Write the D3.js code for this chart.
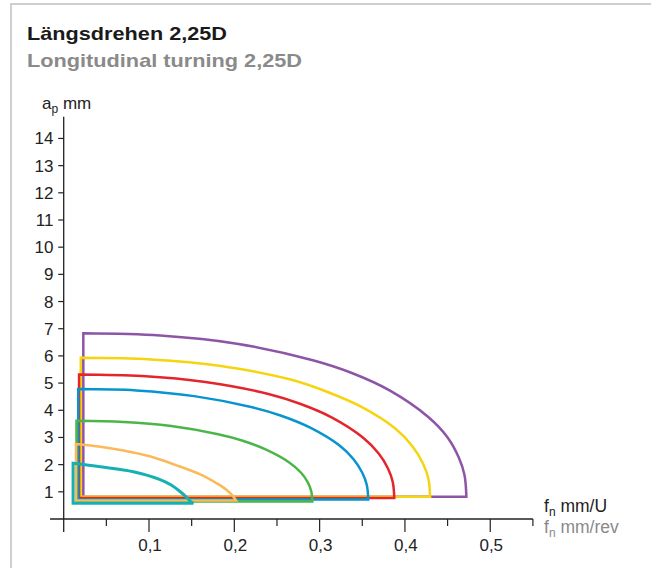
<!DOCTYPE html>
<html><head><meta charset="utf-8">
<script src="https://cdn.jsdelivr.net/npm/d3@7"></script>
<style>
html,body{margin:0;padding:0;background:#fff;}
svg{display:block;font-family:"Liberation Sans",Arial,Helvetica,sans-serif;}
</style></head>
<body>
<svg id="chart" width="651" height="568"></svg>
<script>
// ---- data ----
const yTicks = [1,2,3,4,5,6,7,8,9,10,11,12,13,14];
const xMajorTicks = [0.1,0.2,0.3,0.4,0.5];
const xTickLabels = ["0,1","0,2","0,3","0,4","0,5"];
const xMinorTicks = [0.05,0.15,0.25,0.35,0.45,0.55];

// feed f (mm/rev) and depth ap (mm) for each cutting-range outline
// first point = bottom-left corner, second = top-left corner, last = bottom-right end
const fPurple  = [0.023,0.023,0.113,0.203,0.292,0.337,0.382,0.427,0.450,0.463,0.4698,0.472];
const apPurple = [0.82, 6.83, 6.75, 6.45, 5.84, 5.38, 4.73, 3.76, 3.00, 2.27, 1.62, 0.82];
const fYellow  = [0.020,0.020,0.102,0.184,0.266,0.307,0.348,0.389,0.409,0.421,0.4275,0.4295];
const apYellow = [0.82, 5.93, 5.87, 5.63, 5.13, 4.70, 4.14, 3.32, 2.67, 2.05, 1.48, 0.82];
const fRed     = [0.018,0.018,0.092,0.166,0.240,0.277,0.314,0.351,0.369,0.380,0.3857,0.3875];
const apRed    = [0.77, 5.32, 5.26, 5.04, 4.60, 4.24, 3.74, 2.99, 2.42, 1.87, 1.36, 0.77];
const fBlue    = [0.017,0.017,0.085,0.153,0.221,0.255,0.289,0.323,0.340,0.350,0.3553,0.357];
const apBlue   = [0.72, 4.78, 4.73, 4.52, 4.11, 3.80, 3.36, 2.71, 2.19, 1.70, 1.25, 0.72];
const fGreen   = [0.015,0.015,0.070,0.126,0.181,0.209,0.236,0.264,0.278,0.286,0.2901,0.2915];
const apGreen  = [0.64, 3.61, 3.57, 3.42, 3.12, 2.89, 2.57, 2.09, 1.71, 1.36, 1.03, 0.64];
const fOrange  = [0.0144,0.0144,0.043,0.070,0.101,0.130,0.160,0.180,0.191,0.198,0.202];
const apOrange = [0.68, 2.76, 2.66, 2.52, 2.31, 2.00, 1.64, 1.30, 1.07, 0.86, 0.68];
const fTeal    = [0.011,0.011,0.043,0.0816,0.113,0.126,0.136,0.144,0.149,0.152];
const apTeal   = [0.58, 2.05, 1.92, 1.74, 1.45, 1.25, 1.02, 0.80, 0.64, 0.58];

const series = [
  {f:fPurple, ap:apPurple, color:"#8c55a6", w:2.5},
  {f:fYellow, ap:apYellow, color:"#f5d410", w:2.5},
  {f:fRed,    ap:apRed,    color:"#e4262c", w:2.5},
  {f:fBlue,   ap:apBlue,   color:"#0895cf", w:2.5},
  {f:fGreen,  ap:apGreen,  color:"#4bb647", w:2.5},
  {f:fOrange, ap:apOrange, color:"#fcb95a", w:2.5},
  {f:fTeal,   ap:apTeal,   color:"#17b0b2", w:3}
];

// ---- drawing ----
const svg = d3.select("#chart");
const x = d3.scaleLinear().domain([0,0.55]).range([63.7,532.9]);
const y = d3.scaleLinear().domain([0,14.8]).range([519,116.7]);

// frame
svg.append("line").attr("x1",10).attr("x2",651).attr("y1",4).attr("y2",4)
  .attr("stroke","#cfcfcf").attr("stroke-width",2);
svg.append("line").attr("x1",11).attr("x2",11).attr("y1",3).attr("y2",568)
  .attr("stroke","#cfcfcf").attr("stroke-width",2);

// titles
svg.append("text").attr("x",27).attr("y",40).attr("font-size",19).attr("font-weight","bold")
  .attr("fill","#1a1a1a").attr("textLength",200).attr("lengthAdjust","spacingAndGlyphs")
  .text("Längsdrehen 2,25D");
svg.append("text").attr("x",27).attr("y",67).attr("font-size",19).attr("font-weight","bold")
  .attr("fill","#8a8a8a").attr("textLength",275).attr("lengthAdjust","spacingAndGlyphs")
  .text("Longitudinal turning 2,25D");

// outlines
const lineGen = d3.line().x(d=>x(d[0])).y(d=>y(d[1])).curve(d3.curveCatmullRom.alpha(0.5));
series.forEach(s=>{
  const pts = s.f.map((v,i)=>[v,s.ap[i]]);
  const curve = lineGen(pts.slice(1));
  const dStr = "M" + x(pts[0][0]) + "," + y(pts[0][1]) + "L" + curve.slice(1) + "Z";
  svg.append("path").attr("d",dStr).attr("fill","none")
    .attr("stroke",s.color).attr("stroke-width",s.w).attr("stroke-linejoin","miter");
});

// y axis
const axisColor = "#222";
svg.append("line").attr("x1",x(0)).attr("x2",x(0)).attr("y1",y(14.8)).attr("y2",532)
  .attr("stroke",axisColor).attr("stroke-width",1.3);
const yg = svg.append("g");
yTicks.forEach(t=>{
  yg.append("line").attr("x1",x(0)-5.5).attr("x2",x(0)).attr("y1",y(t)).attr("y2",y(t))
    .attr("stroke",axisColor).attr("stroke-width",1.2);
  yg.append("text").attr("x",53.5).attr("y",y(t)+6).attr("text-anchor","end")
    .attr("font-size",17).attr("fill","#222").text(t);
});

// x axis
svg.append("line").attr("x1",50).attr("x2",x(0.55)).attr("y1",y(0)).attr("y2",y(0))
  .attr("stroke",axisColor).attr("stroke-width",1.3);
xMinorTicks.forEach(t=>{
  svg.append("line").attr("x1",x(t)).attr("x2",x(t)).attr("y1",y(0)).attr("y2",y(0)+7)
    .attr("stroke",axisColor).attr("stroke-width",1.2);
});
xMajorTicks.forEach((t,i)=>{
  svg.append("line").attr("x1",x(t)).attr("x2",x(t)).attr("y1",y(0)).attr("y2",y(0)+13)
    .attr("stroke",axisColor).attr("stroke-width",1.2);
  svg.append("text").attr("x",x(t)+1).attr("y",551).attr("text-anchor","middle")
    .attr("font-size",17).attr("fill","#222").text(xTickLabels[i]);
});

// axis labels
const ap = svg.append("text").attr("x",42).attr("y",109).attr("font-size",17).attr("fill","#222");
ap.append("tspan").text("a");
ap.append("tspan").attr("font-size",12).attr("dy",4).text("p");
ap.append("tspan").attr("dy",-4).text(" mm");

const fn1 = svg.append("text").attr("x",544).attr("y",512).attr("font-size",17.5).attr("fill","#222");
fn1.append("tspan").text("f");
fn1.append("tspan").attr("font-size",12).attr("dy",4).text("n");
fn1.append("tspan").attr("dy",-4).text(" mm/U");

const fn2 = svg.append("text").attr("x",544).attr("y",533).attr("font-size",17.5).attr("fill","#8a8a8a");
fn2.append("tspan").text("f");
fn2.append("tspan").attr("font-size",12).attr("dy",4).text("n");
fn2.append("tspan").attr("dy",-4).text(" mm/rev");
</script>
</body></html>
